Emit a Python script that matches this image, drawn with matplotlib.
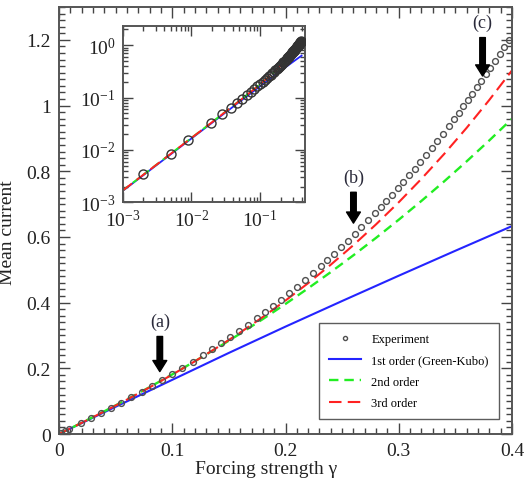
import numpy as np
import matplotlib
matplotlib.use("Agg")
import matplotlib.pyplot as plt
from matplotlib.ticker import MultipleLocator, FormatStrFormatter, LogLocator, NullFormatter

plt.rcParams["font.family"] = ["Liberation Serif", "DejaVu Serif"]
plt.rcParams["mathtext.fontset"] = "stix"

# ---- measured mean current (circles) ----
gamma_exp = [0.002, 0.005, 0.009, 0.019, 0.028, 0.037, 0.046, 0.055, 0.064, 0.073,
             0.082, 0.091, 0.100, 0.109, 0.118, 0.127, 0.135, 0.143, 0.151, 0.159,
             0.167, 0.175, 0.182, 0.189, 0.196, 0.203, 0.210, 0.217, 0.224, 0.231,
             0.237, 0.243, 0.249, 0.255, 0.261, 0.267, 0.273, 0.279, 0.284, 0.289,
             0.294, 0.299, 0.304, 0.309, 0.314, 0.319, 0.324, 0.329, 0.334, 0.339,
             0.344, 0.349, 0.353, 0.357, 0.361, 0.365, 0.369, 0.373, 0.377, 0.381,
             0.385, 0.389, 0.393, 0.397]
current_exp = [0.0034, 0.0084, 0.0152, 0.0323, 0.0478, 0.0636, 0.0796, 0.0959, 0.1125, 0.1294,
               0.1467, 0.1644, 0.1825, 0.2010, 0.2201, 0.2396, 0.2574, 0.2756, 0.2943, 0.3135,
               0.3331, 0.3533, 0.3714, 0.3900, 0.4090, 0.4284, 0.4483, 0.4687, 0.4895, 0.5109,
               0.5296, 0.5487, 0.5683, 0.5882, 0.6085, 0.6293, 0.6505, 0.6722, 0.6905, 0.7092,
               0.7283, 0.7476, 0.7673, 0.7873, 0.8076, 0.8283, 0.8494, 0.8708, 0.8925, 0.9147,
               0.9372, 0.9601, 0.9786, 0.9975, 1.0165, 1.0359, 1.0554, 1.0753, 1.0953, 1.1157,
               1.1363, 1.1572, 1.1784, 1.1998]

# ---- response theory, orders 1..3 ----
gamma_lin = [0.0, 0.001, 0.05, 0.10, 0.15, 0.20, 0.25, 0.30, 0.35, 0.40]
current_1st = [0.0, 0.00165, 0.083, 0.165, 0.247, 0.327, 0.405, 0.482, 0.558, 0.633]

gamma_th = [0.0, 0.001, 0.02, 0.04, 0.06, 0.08, 0.10, 0.12, 0.14, 0.16, 0.18, 0.20,
            0.22, 0.24, 0.26, 0.28, 0.30, 0.32, 0.34, 0.36, 0.38, 0.40]
current_2nd = [0.0, 0.00168, 0.0341, 0.0692, 0.1054, 0.1428, 0.1815, 0.2215, 0.2628, 0.3057,
               0.3500, 0.3960, 0.4437, 0.4931, 0.5443, 0.5974, 0.6525, 0.7096, 0.7689, 0.8303,
               0.8940, 0.9600]
current_3rd = [0.0, 0.00168, 0.0340, 0.0688, 0.1047, 0.1420, 0.1808, 0.2214, 0.2641, 0.3089,
               0.3563, 0.4064, 0.4594, 0.5156, 0.5752, 0.6385, 0.7056, 0.7768, 0.8523, 0.9324,
               1.0173, 1.1072]

# arrows marking the three snapshots: (label, gamma, tail, tip)
marks = [("(a)", 0.089, 0.297, 0.190),
         ("(b)", 0.260, 0.736, 0.642),
         ("(c)", 0.374, 1.207, 1.090)]

BLUE = "#2424ff"
GREEN = "#22ee22"
RED = "#ff2222"
INK = "#222222"

fig = plt.figure(figsize=(5.26, 4.81), dpi=100)
ax = fig.add_axes([0.1122, 0.0956, 0.8612, 0.8877])

ax.plot(gamma_lin, current_1st, color=BLUE, lw=1.5, label="1st order (Green-Kubo)")
ax.plot(gamma_th, current_2nd, color=GREEN, lw=1.7, ls=(0, (4, 2.5)), label="2nd order")
ax.plot(gamma_th, current_3rd, color=RED, lw=1.5, ls=(0, (6, 3)), label="3rd order")
ax.plot(gamma_exp, current_exp, ls="none", marker="o", ms=4.2, mfc="none",
        mec="#505050", mew=1.0, label="Experiment", zorder=3)

for lab, g, tail, tip in marks:
    ax.annotate("", xy=(g, tip), xytext=(g, tail),
                arrowprops=dict(facecolor="black", edgecolor="black",
                                width=4, headwidth=10, headlength=8, shrink=0))
    ax.text(g, tail + 0.045, lab, ha="center", va="center", fontsize=13, color="#2a2a3a")

ax.set_xlim(0, 0.4)
ax.set_ylim(0, 1.3)
ax.xaxis.set_major_locator(MultipleLocator(0.1))
ax.xaxis.set_minor_locator(MultipleLocator(0.01))
ax.yaxis.set_major_locator(MultipleLocator(0.2))
ax.yaxis.set_minor_locator(MultipleLocator(0.02))
ax.xaxis.set_major_formatter(FormatStrFormatter("%g"))
ax.yaxis.set_major_formatter(FormatStrFormatter("%g"))
ax.tick_params(which="both", direction="in", top=True, right=True, colors="#444444",
               labelcolor=INK, labelsize=14, width=1)
ax.tick_params(which="major", length=8, pad=6)
ax.tick_params(which="minor", length=4)
for s in ax.spines.values():
    s.set_color("#555555")
    s.set_linewidth(1.4)

ax.set_xlabel("Forcing strength γ", fontsize=14, color=INK)
ax.xaxis.set_label_coords(0.457, -0.062)
ax.set_ylabel("Mean current", fontsize=14, color=INK)
ax.yaxis.set_label_coords(-0.095, 0.475)

handles, labels = ax.get_legend_handles_labels()
order = [3, 0, 1, 2]
leg = ax.legend([handles[i] for i in order], [labels[i] for i in order],
                loc="lower right", bbox_to_anchor=(0.971, 0.035), borderaxespad=0,
                fontsize=9, frameon=True, fancybox=False, handlelength=2.6,
                borderpad=0.8, labelspacing=0.75, markerscale=0.7)
leg.get_frame().set_edgecolor("#333333")
leg.get_frame().set_linewidth(1.0)

# ---- log-log inset ----
ins = fig.add_axes([0.2333, 0.5773, 0.3467, 0.3659])
ins.loglog(gamma_lin[1:], current_1st[1:], color=BLUE, lw=1.3)
ins.loglog(gamma_th[1:], current_2nd[1:], color=GREEN, lw=1.4, ls=(0, (4, 2.5)))
ins.loglog(gamma_th[1:], current_3rd[1:], color=RED, lw=1.4, ls=(0, (6, 3)))
ins.loglog(gamma_exp, current_exp, ls="none", marker="o", ms=6.5, mfc="none",
           mec="#333333", mew=1.0, zorder=3)
ins.set_xlim(1e-3, 0.45)
ins.set_ylim(1e-3, 2.3)
for axis in (ins.xaxis, ins.yaxis):
    axis.set_major_locator(LogLocator(base=10, numticks=10))
    axis.set_minor_locator(LogLocator(base=10, subs=np.arange(2, 10), numticks=10))
    axis.set_minor_formatter(NullFormatter())
ins.tick_params(which="both", direction="in", top=True, right=True, colors="#444444",
                labelcolor=INK, labelsize=14, width=1)
ins.tick_params(which="major", length=7, pad=5)
ins.tick_params(which="minor", length=3.5)
for s in ins.spines.values():
    s.set_color("#555555")
    s.set_linewidth(1.4)

fig.savefig("out.png", dpi=100)
